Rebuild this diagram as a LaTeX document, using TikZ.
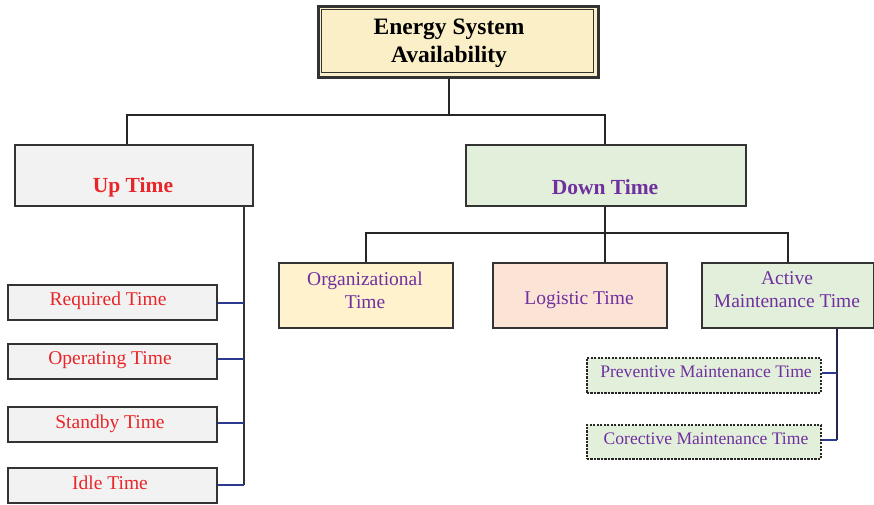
\documentclass[tikz,border=0pt]{standalone}
\usepackage{fontspec}
\setmainfont{Liberation Serif}
\begin{document}
\definecolor{edge}{HTML}{333333}
\definecolor{bluelink}{HTML}{2B3990}
\definecolor{navylink}{HTML}{23264F}
\definecolor{redtxt}{HTML}{E8262A}
\definecolor{purpletxt}{HTML}{7030A0}
\definecolor{creamfill}{HTML}{FBEFC8}
\definecolor{grayfill}{HTML}{F2F2F2}
\definecolor{greenfill}{HTML}{E2EFDA}
\definecolor{yellowfill}{HTML}{FFF2CC}
\definecolor{peachfill}{HTML}{FBE3D6}
\begin{tikzpicture}[x=1pt,y=-1pt,
  box/.style={draw=edge,line width=1.8pt,inner sep=0pt,anchor=north west},
  dbox/.style={draw=black!85,line width=1.6pt,dash pattern=on 2.2pt off 1.3pt,inner sep=0pt,anchor=north west,fill=greenfill},
  link/.style={draw=black!85,line width=1.8pt},
  sublink/.style={draw=bluelink,line width=1.6pt},
  headtxt/.style={font=\fontsize{23.5}{28}\selectfont\bfseries,align=center,inner sep=0pt},
  bigtxt/.style={font=\fontsize{21.5}{26}\selectfont\bfseries,inner sep=0pt},
  redlbl/.style={text=redtxt,font=\fontsize{19.5}{23}\selectfont,inner sep=0pt},
  purlbl/.style={text=purpletxt,font=\fontsize{19.5}{23}\selectfont,align=center,inner sep=0pt},
  smlbl/.style={text=purpletxt,font=\fontsize{17.6}{21}\selectfont,inner sep=0pt}]
\useasboundingbox (0,0) rectangle (874,505);

% root box with double frame
\node[box,fill=creamfill,line width=3pt,minimum width=280pt,minimum height=71pt] (root) at (317,5) {};
\node[draw=edge,line width=1.1pt,inner sep=0pt,anchor=north west,minimum width=272pt,minimum height=63pt] (rootin) at (321,9) {};
\node[headtxt] (roott) at (449,43) {Energy System\\Availability};

% second level
\node[box,fill=grayfill,minimum width=238pt,minimum height=61pt] (up) at (14,144) {};
\node[bigtxt,text=redtxt] (upt) at (133,187) {Up Time};
\node[box,fill=greenfill,minimum width=280pt,minimum height=61pt] (down) at (465,144) {};
\node[bigtxt,text=purpletxt] (downt) at (605,187) {Down Time};

% up-time children
\node[box,fill=grayfill,line width=1.5pt,minimum width=209pt,minimum height=35pt] (req) at (7,284) {};
\node[redlbl] (reqt) at (108,301) {Required Time};
\node[box,fill=grayfill,line width=1.5pt,minimum width=209pt,minimum height=35pt] (ope) at (7,343) {};
\node[redlbl] (opet) at (110,360) {Operating Time};
\node[box,fill=grayfill,line width=1.5pt,minimum width=209pt,minimum height=35pt] (sta) at (7,406) {};
\node[redlbl] (stat) at (110,424) {Standby Time};
\node[box,fill=grayfill,line width=1.5pt,minimum width=209pt,minimum height=35pt] (idl) at (7,467) {};
\node[redlbl] (idlt) at (110,483) {Idle Time};

% down-time children
\node[box,fill=yellowfill,line width=1.5pt,minimum width=174pt,minimum height=65pt] (org) at (278,262) {};
\node[purlbl] (orgt) at (365,290) {Organizational\\Time};
\node[box,fill=peachfill,line width=1.5pt,minimum width=174pt,minimum height=65pt] (log) at (492,262) {};
\node[purlbl] (logt) at (579,300.5) {Logistic Time};
\node[box,fill=greenfill,line width=1.5pt,minimum width=172pt,minimum height=65pt] (act) at (701,262) {};
\node[purlbl] (actt) at (787,290) {Active\\Maintenance Time};

% active maintenance children
\node[dbox,minimum width=234pt,minimum height=35pt] (pre) at (586,357) {};
\node[smlbl] (pret) at (706,372) {Preventive Maintenance Time};
\node[dbox,minimum width=234pt,minimum height=34pt] (cor) at (586,424) {};
\node[smlbl] (cort) at (706,439) {Corective Maintenance Time};

% tree connectors
\coordinate (bus1) at (449,115);
\coordinate (bus2) at (605,233);
\draw[link] (root.south -| bus1) -- (bus1);
\draw[link] (up.north -| 127,0) |- (bus1) -| (down.north -| bus2);
\draw[link] (down.south -| bus2) -- (bus2);
\draw[link] (org.north -| 366,0) |- (bus2) -| (act.north -| 788,0);
\draw[link] (bus2) -- (log.north -| bus2);

% up-time rail
\coordinate (rail) at (244,485);
\draw[link,draw=edge] (up.south -| rail) -- (rail);
\draw[sublink] (req.east |- 0,303) -- (244,303);
\draw[sublink] (ope.east |- 0,359) -- (244,359);
\draw[sublink] (sta.east |- 0,423) -- (244,423);
\draw[sublink] (idl.east |- 0,485) -- (rail);

% active maintenance rail
\coordinate (rail2) at (837,440);
\draw[link,draw=navylink] (act.south -| rail2) -- (rail2);
\draw[sublink] (pre.east |- 0,373) -- (837,373);
\draw[sublink] (cor.east |- rail2) -- (rail2);
\end{tikzpicture}
\end{document}
